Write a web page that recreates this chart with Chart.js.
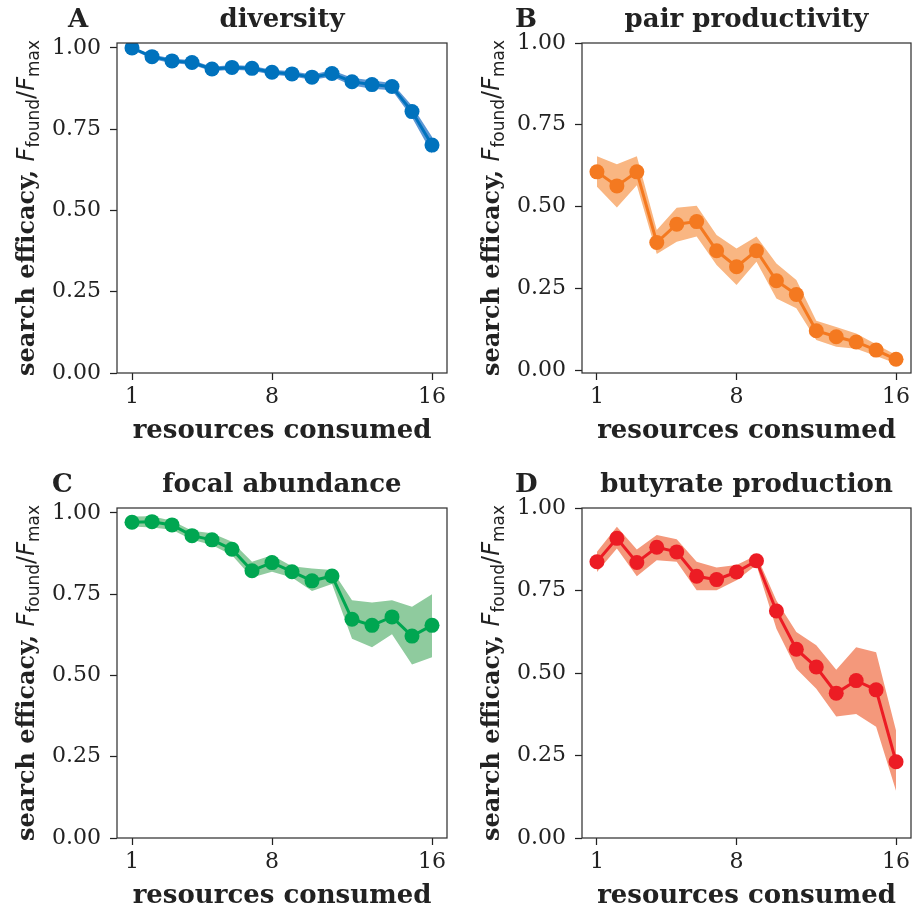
<!DOCTYPE html>
<html>
<head>
<meta charset="utf-8">
<title>search efficacy</title>
<script src="https://cdn.jsdelivr.net/npm/chart.js@4.4.1/dist/chart.umd.min.js"></script>
<style>
  html, body { margin: 0; padding: 0; background: #fff; width: 917px; height: 907px; overflow: hidden; }
  .panel { position: absolute; width: 460px; height: 460px; }
</style>
</head>
<body>
<div class="panel" style="left:0;top:0"><canvas id="chartA" width="460" height="460"></canvas></div>
<div class="panel" style="left:465px;top:0"><canvas id="chartB" width="460" height="460"></canvas></div>
<div class="panel" style="left:0;top:465px"><canvas id="chartC" width="460" height="460"></canvas></div>
<div class="panel" style="left:465px;top:465px"><canvas id="chartD" width="460" height="460"></canvas></div>

<script>
// resources consumed (x) and tick labels
const resources = [1, 2, 3, 4, 5, 6, 7, 8, 9, 10, 11, 12, 13, 14, 15, 16];
const xTicks = [1, 8, 16];
const yTicks = [0, 0.25, 0.5, 0.75, 1.0];

// A - diversity
const diversityMean = [1.0, 0.973, 0.960, 0.955, 0.935, 0.940, 0.937, 0.925, 0.920, 0.910, 0.921, 0.896, 0.887, 0.881, 0.804, 0.701];
const diversityLow  = [0.995, 0.966, 0.953, 0.948, 0.928, 0.933, 0.930, 0.917, 0.912, 0.902, 0.911, 0.884, 0.874, 0.870, 0.786, 0.675];
const diversityHigh = [1.0, 0.980, 0.967, 0.962, 0.942, 0.947, 0.944, 0.933, 0.928, 0.918, 0.931, 0.908, 0.900, 0.892, 0.822, 0.727];

// B - pair productivity
const pairMean = [0.606, 0.563, 0.606, 0.390, 0.446, 0.454, 0.365, 0.316, 0.365, 0.273, 0.231, 0.120, 0.102, 0.086, 0.061, 0.033];
const pairLow  = [0.561, 0.497, 0.565, 0.355, 0.392, 0.408, 0.321, 0.260, 0.331, 0.219, 0.189, 0.092, 0.071, 0.065, 0.043, 0.020];
const pairHigh = [0.654, 0.629, 0.654, 0.428, 0.496, 0.502, 0.413, 0.372, 0.408, 0.326, 0.275, 0.151, 0.132, 0.112, 0.079, 0.046];

// C - focal abundance
const focalMean = [0.971, 0.973, 0.963, 0.930, 0.917, 0.888, 0.822, 0.847, 0.819, 0.791, 0.806, 0.673, 0.654, 0.680, 0.621, 0.654];
const focalLow  = [0.958, 0.955, 0.948, 0.917, 0.901, 0.870, 0.801, 0.819, 0.801, 0.760, 0.781, 0.613, 0.587, 0.627, 0.534, 0.556];
const focalHigh = [0.989, 0.990, 0.976, 0.945, 0.937, 0.911, 0.850, 0.870, 0.836, 0.829, 0.824, 0.731, 0.724, 0.731, 0.711, 0.750];

// D - butyrate production
const butyrateMean = [0.837, 0.908, 0.835, 0.881, 0.867, 0.793, 0.783, 0.806, 0.840, 0.688, 0.572, 0.518, 0.439, 0.477, 0.449, 0.231];
const butyrateLow  = [0.806, 0.877, 0.793, 0.842, 0.837, 0.751, 0.751, 0.781, 0.827, 0.634, 0.513, 0.452, 0.368, 0.376, 0.337, 0.143];
const butyrateHigh = [0.867, 0.943, 0.874, 0.918, 0.905, 0.837, 0.820, 0.827, 0.857, 0.720, 0.624, 0.584, 0.510, 0.578, 0.563, 0.325];

const SERIF = "'DejaVu Serif', serif";
const SANS = "'DejaVu Sans', sans-serif";
const INK = '#222222';

const pts = (ys) => ys.map((y, i) => ({ x: resources[i], y: y }));

// panel letter, title, frame and the mixed-font y label
const panelDecor = {
    id: 'panelDecor',
    afterDraw(chart, args, opts) {
        const { ctx, chartArea: a } = chart;
        ctx.save();

        // axes frame
        ctx.strokeStyle = '#333';
        ctx.lineWidth = 1.25;
        ctx.strokeRect(a.left, a.top, a.right - a.left, a.bottom - a.top);

        // letter + title
        ctx.fillStyle = INK;
        ctx.textBaseline = 'alphabetic';
        ctx.font = `bold 26px ${SERIF}`;
        ctx.textAlign = 'left';
        ctx.fillText(opts.letter, opts.letterX, a.top - 16);
        ctx.textAlign = 'center';
        ctx.fillText(opts.title, (a.left + a.right) / 2, a.top - 16);

        // y label: search efficacy, F_found / F_max
        const parts = [
            { t: 'search efficacy, ', f: `bold 24px ${SERIF}`, dy: 0 },
            { t: 'F', f: `italic 24px ${SANS}`, dy: 0 },
            { t: 'found', f: `17px ${SANS}`, dy: 5 },
            { t: '/', f: `24px ${SANS}`, dy: 0 },
            { t: 'F', f: `italic 24px ${SANS}`, dy: 0 },
            { t: 'max', f: `17px ${SANS}`, dy: 5 }
        ];
        let total = 0;
        parts.forEach(p => { ctx.font = p.f; p.w = ctx.measureText(p.t).width; total += p.w; });
        ctx.translate(a.left - 83, (a.top + a.bottom) / 2);
        ctx.rotate(-Math.PI / 2);
        ctx.textAlign = 'left';
        let x = -total / 2;
        parts.forEach(p => {
            ctx.font = p.f;
            ctx.fillText(p.t, x, p.dy);
            x += p.w;
        });
        ctx.restore();
    }
};

function makePanel(id, opt) {
    const ctx = document.getElementById(id);
    return new Chart(ctx, {
        type: 'line',
        data: {
            datasets: [
                {
                    data: pts(opt.mean),
                    borderColor: opt.color,
                    backgroundColor: opt.color,
                    borderWidth: 3,
                    pointRadius: 7.5,
                    pointHoverRadius: 7.5,
                    pointBorderWidth: 0,
                    pointBackgroundColor: opt.color,
                    tension: 0,
                    fill: false,
                    order: 0
                },
                {
                    data: pts(opt.low),
                    borderWidth: 0,
                    pointRadius: 0,
                    fill: false,
                    order: 2
                },
                {
                    data: pts(opt.high),
                    borderWidth: 0,
                    pointRadius: 0,
                    backgroundColor: opt.band,
                    fill: '-1',
                    order: 1
                }
            ]
        },
        options: {
            responsive: false,
            animation: false,
            events: [],
            layout: { padding: { top: 43, right: opt.padRight, left: 0, bottom: 0 } },
            plugins: {
                legend: { display: false },
                tooltip: { enabled: false },
                filler: { propagate: false },
                panelDecor: { letter: opt.letter, letterX: opt.letterX, title: opt.title }
            },
            scales: {
                x: {
                    type: 'linear',
                    min: 0.25,
                    max: 16.75,
                    afterFit: (s) => { s.height = 87; },
                    afterBuildTicks: (s) => { s.ticks = xTicks.map(v => ({ value: v })); },
                    grid: { drawOnChartArea: false, drawTicks: true, tickLength: 7, tickWidth: 1.25, tickColor: INK },
                    border: { display: false },
                    ticks: {
                        padding: 4,
                        color: INK,
                        font: { family: SERIF, size: 22 },
                        maxRotation: 0,
                        callback: (v) => String(v)
                    },
                    title: {
                        display: true,
                        text: 'resources consumed',
                        color: INK,
                        font: { family: SERIF, size: 26, weight: 'bold' },
                        padding: { top: 0, bottom: 13 }
                    }
                },
                y: {
                    type: 'linear',
                    min: opt.yMin,
                    max: opt.yMax,
                    afterFit: (s) => { s.width = 117; },
                    afterBuildTicks: (s) => { s.ticks = yTicks.map(v => ({ value: v })); },
                    grid: { drawOnChartArea: false, drawTicks: true, tickLength: 7, tickWidth: 1.25, tickColor: INK },
                    border: { display: false },
                    ticks: {
                        padding: 9,
                        color: INK,
                        font: { family: SERIF, size: 22 },
                        callback: (v) => v.toFixed(2)
                    }
                }
            }
        },
        plugins: [panelDecor]
    });
}

makePanel('chartA', {
    mean: diversityMean, low: diversityLow, high: diversityHigh,
    color: '#0072bd', band: '#5b97d4',
    yMin: 0, yMax: 1.015, padRight: 13,
    letter: 'A', letterX: 68, title: 'diversity'
});
makePanel('chartB', {
    mean: pairMean, low: pairLow, high: pairHigh,
    color: '#f47920', band: '#f9b682',
    yMin: -0.009, yMax: 1.0, padRight: 14,
    letter: 'B', letterX: 50, title: 'pair productivity'
});
makePanel('chartC', {
    mean: focalMean, low: focalLow, high: focalHigh,
    color: '#00a651', band: '#8fcb9e',
    yMin: 0, yMax: 1.015, padRight: 13,
    letter: 'C', letterX: 52, title: 'focal abundance'
});
makePanel('chartD', {
    mean: butyrateMean, low: butyrateLow, high: butyrateHigh,
    color: '#ec1c24', band: '#f4987b',
    yMin: 0, yMax: 1.0, padRight: 14,
    letter: 'D', letterX: 50, title: 'butyrate production'
});
</script>
</body>
</html>
